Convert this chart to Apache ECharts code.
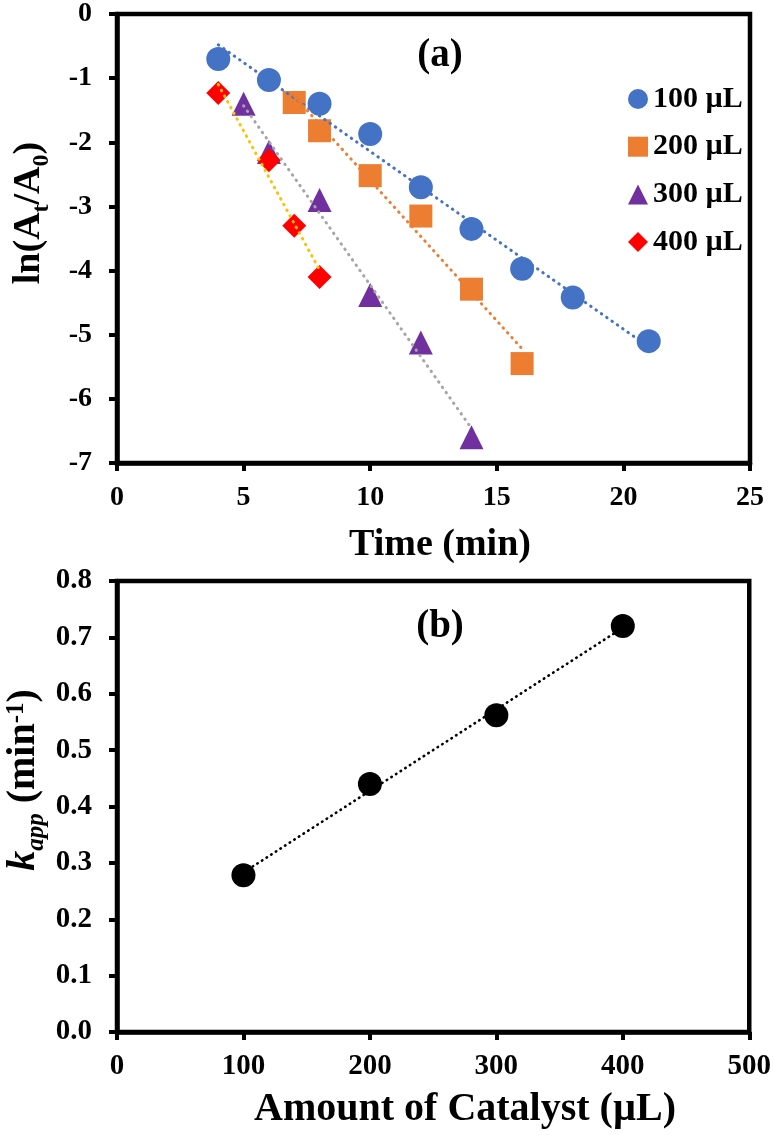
<!DOCTYPE html>
<html>
<head>
<meta charset="utf-8">
<script src="https://cdn.jsdelivr.net/npm/echarts@6/dist/echarts.min.js"></script>
<style>
  html, body { margin: 0; padding: 0; background: #fff; }
  #chart { width: 774px; height: 1135px; }
</style>
</head>
<body>
<div id="chart"></div>
<script>
// ---------- Data ----------
const seriesNames = ['100 µL', '200 µL', '300 µL', '400 µL'];

const time100 = [4, 6, 8, 10, 12, 14, 16, 18, 21];
const ln100   = [-0.70, -1.03, -1.40, -1.87, -2.70, -3.35, -3.97, -4.42, -5.10];

const time200 = [7, 8, 10, 12, 14, 16];
const ln200   = [-1.38, -1.82, -2.52, -3.15, -4.29, -5.45];

const time300 = [5, 6, 8, 10, 12, 14];
const ln300   = [-1.40, -2.15, -2.90, -4.38, -5.12, -6.60];

const time400 = [4, 6, 7, 8];
const ln400   = [-1.23, -2.28, -3.30, -4.10];

// dotted trend lines (end points)
const trend100 = [[4, -0.48], [21, -5.19]];
const trend200 = [[7, -1.28], [16, -5.22]];
const trend300 = [[5, -1.43], [14, -6.46]];
const trend400 = [[4, -1.10], [8, -3.99]];

// panel (b)
const catalystAmount = [100, 200, 300, 400];
const kapp = [0.278, 0.440, 0.562, 0.720];
const trendK = [[100, 0.283], [400, 0.717]];

// axis ranges
const timeTicks = { min: 0, max: 25, interval: 5 };
const lnTicks = { min: -7, max: 0, interval: 1 };
const amountTicks = { min: 0, max: 500, interval: 100 };
const kTicks = { min: 0, max: 0.8, interval: 0.1 };

// ---------- Styling ----------
const FONT = '"Liberation Serif", "Times New Roman", serif';
const zip = (xs, ys) => xs.map((x, i) => [x, ys[i]]);

function valueAxis(gridIndex, ticks, opts) {
  return Object.assign({
    type: 'value',
    gridIndex: gridIndex,
    min: ticks.min, max: ticks.max, interval: ticks.interval,
    splitLine: { show: false },
    axisLine: { show: true, onZero: false, lineStyle: { color: '#000', width: 4.5 } },
    axisTick: { show: true, inside: false, length: 8, lineStyle: { color: '#000', width: 4 } },
    axisLabel: { color: '#000', fontFamily: FONT, fontWeight: 'bold', fontSize: 28 }
  }, opts || {});
}

const lbl = (size, margin, extra) => Object.assign({ color: '#000', fontFamily: FONT, fontWeight: 'bold', fontSize: size, margin: margin }, extra || {});
const dotted = (color, width, gap) => ({ color: color, width: width, type: [0.5, gap], cap: 'round' });

const chart = echarts.init(document.getElementById('chart'), null, { renderer: 'canvas' });

const option = {
  animation: false,
  backgroundColor: '#fff',
  grid: [
    { left: 117, top: 13, width: 633, height: 450, show: true, borderColor: '#000', borderWidth: 4.5, backgroundColor: 'transparent' },
    { left: 117, top: 581, width: 633, height: 451, show: true, borderColor: '#000', borderWidth: 4.5, backgroundColor: 'transparent' }
  ],
  xAxis: [
    valueAxis(0, timeTicks, { axisLabel: lbl(28, 21) }),
    valueAxis(1, amountTicks, { axisLabel: lbl(29, 20) })
  ],
  yAxis: [
    valueAxis(0, lnTicks, { axisLabel: lbl(28, 25) }),
    valueAxis(1, kTicks, { axisLabel: lbl(29, 25, { formatter: v => v.toFixed(1) }) })
  ],
  legend: {
    data: seriesNames,
    orient: 'vertical',
    left: 628, top: 84,
    padding: 0,
    itemWidth: 20, itemHeight: 20,
    itemGap: 17.7,
    selectedMode: false,
    textStyle: { color: '#000', fontFamily: FONT, fontWeight: 'bold', fontSize: 30, lineHeight: 30 }
  },
  series: [
    { name: seriesNames[0], type: 'scatter', xAxisIndex: 0, yAxisIndex: 0, symbol: 'circle', symbolSize: 24,
      itemStyle: { color: '#4472C4', opacity: 1 }, data: zip(time100, ln100), z: 2 },
    { name: seriesNames[1], type: 'scatter', xAxisIndex: 0, yAxisIndex: 0, symbol: 'rect', symbolSize: 23,
      itemStyle: { color: '#ED7D31', opacity: 1 }, data: zip(time200, ln200), z: 2 },
    { name: seriesNames[2], type: 'scatter', xAxisIndex: 0, yAxisIndex: 0, symbol: 'triangle', symbolSize: 24,
      itemStyle: { color: '#7030A0', opacity: 1 }, data: zip(time300, ln300), z: 2 },
    { name: seriesNames[3], type: 'scatter', xAxisIndex: 0, yAxisIndex: 0, symbol: 'diamond', symbolSize: 24,
      itemStyle: { color: '#FF0000', opacity: 1 }, data: zip(time400, ln400), z: 2 },

    { name: 'trend100', type: 'line', xAxisIndex: 0, yAxisIndex: 0, showSymbol: false, silent: true, z: 5,
      lineStyle: dotted('#4472C4', 3, 6), data: trend100 },
    { name: 'trend200', type: 'line', xAxisIndex: 0, yAxisIndex: 0, showSymbol: false, silent: true, z: 5,
      lineStyle: dotted('#ED7D31', 3, 6), data: trend200 },
    { name: 'trend300', type: 'line', xAxisIndex: 0, yAxisIndex: 0, showSymbol: false, silent: true, z: 5,
      lineStyle: dotted('#A5A5A5', 3, 6), data: trend300 },
    { name: 'trend400', type: 'line', xAxisIndex: 0, yAxisIndex: 0, showSymbol: false, silent: true, z: 5,
      lineStyle: dotted('#FFC000', 3, 6), data: trend400 },

    { name: 'kapp', type: 'scatter', xAxisIndex: 1, yAxisIndex: 1, symbol: 'circle', symbolSize: 24,
      itemStyle: { color: '#000', opacity: 1 }, data: zip(catalystAmount, kapp), z: 2 },
    { name: 'trendK', type: 'line', xAxisIndex: 1, yAxisIndex: 1, showSymbol: false, silent: true, z: 5,
      lineStyle: dotted('#000', 2.6, 5), data: trendK }
  ],
  graphic: [
    { type: 'text', x: 440, y: 56, silent: true,
      style: { text: '(a)', font: 'bold 39px ' + FONT, fill: '#000', align: 'center', verticalAlign: 'middle' } },
    { type: 'text', x: 440, y: 627, silent: true,
      style: { text: '(b)', font: 'bold 39px ' + FONT, fill: '#000', align: 'center', verticalAlign: 'middle' } },
    { type: 'text', x: 440, y: 545, silent: true,
      style: { text: 'Time (min)', font: 'bold 38px ' + FONT, fill: '#000', align: 'center', verticalAlign: 'middle' } },
    { type: 'text', x: 465, y: 1110, silent: true,
      style: { text: 'Amount of Catalyst (µL)', font: 'bold 40px ' + FONT, fill: '#000', align: 'center', verticalAlign: 'middle' } },
    { type: 'text', x: 30, y: 213, rotation: Math.PI / 2, silent: true,
      style: {
        text: '{m|ln(A}{s|t}{m|/A}{s|0}{m|)}',
        align: 'center', verticalAlign: 'middle', fill: '#000',
        rich: {
          m: { fontFamily: FONT, fontWeight: 'bold', fontSize: 38, lineHeight: 40, verticalAlign: 'top', fill: '#000' },
          s: { fontFamily: FONT, fontWeight: 'bold', fontSize: 24, lineHeight: 24, verticalAlign: 'top', padding: [20, 0, 0, 0], fill: '#000' }
        }
      } },
    { type: 'text', x: 24, y: 780, rotation: Math.PI / 2, silent: true,
      style: {
        text: '{k|k}{s|app}{m| (min}{p|-1}{m|)}',
        align: 'center', verticalAlign: 'middle', fill: '#000',
        rich: {
          k: { fontFamily: FONT, fontWeight: 'bold', fontStyle: 'italic', fontSize: 40, lineHeight: 40, verticalAlign: 'top', fill: '#000' },
          m: { fontFamily: FONT, fontWeight: 'bold', fontSize: 40, lineHeight: 40, verticalAlign: 'top', fill: '#000' },
          s: { fontFamily: FONT, fontWeight: 'bold', fontStyle: 'italic', fontSize: 25, lineHeight: 25, verticalAlign: 'top', padding: [20, 0, 0, 0], fill: '#000' },
          p: { fontFamily: FONT, fontWeight: 'bold', fontSize: 25, lineHeight: 25, verticalAlign: 'top', padding: [0, 0, 0, 0], fill: '#000' }
        }
      } }
  ]
};

chart.setOption(option);
</script>
</body>
</html>
